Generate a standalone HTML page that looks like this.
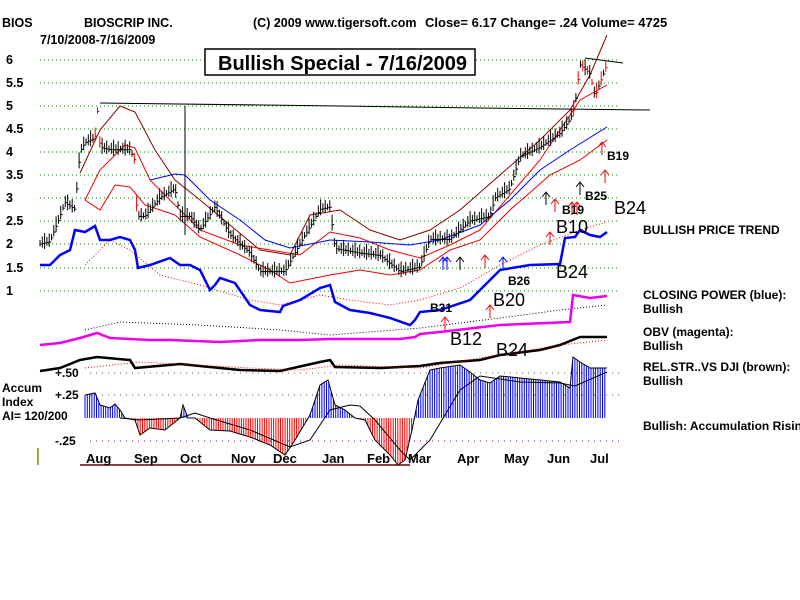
<!DOCTYPE html>
<html><head><meta charset="utf-8"><style>
body{margin:0;background:#fff;width:800px;height:600px;overflow:hidden}
svg{display:block;font-family:"Liberation Sans",sans-serif}
.t{font-weight:bold;font-size:12.5px;fill:#000}
.b{font-size:18px;fill:#000}
</style></head><body>
<svg id="s" width="800" height="600" viewBox="0 0 800 600">
<text class="t" x="2" y="27">BIOS</text>
<text class="t" x="84" y="27">BIOSCRIP INC.</text>
<text class="t" x="253" y="27">(C) 2009 www.tigersoft.com</text>
<text class="t" x="425" y="27" style="font-size:13px">Close=  6.17  Change= .24 Volume= 4725</text>
<text class="t" x="40" y="44">7/10/2008-7/16/2009</text>
<g class="t">
<text x="6" y="64">6</text><text x="6" y="87">5.5</text><text x="6" y="110">5</text><text x="6" y="133">4.5</text>
<text x="6" y="156">4</text><text x="6" y="179">3.5</text><text x="6" y="202">3</text><text x="6" y="225">2.5</text>
<text x="6" y="248">2</text><text x="6" y="272">1.5</text><text x="6" y="295">1</text>
</g>
<g id="grid" stroke="#080" stroke-dasharray="1,3" stroke-width="1"></g>
<rect x="205" y="49" width="270" height="26" fill="#fff" stroke="#000" stroke-width="1.5"/>
<text x="218" y="70" style="font-weight:bold;font-size:20px">Bullish Special - 7/16/2009</text>
<g id="plot"></g>
<g class="t" style="font-size:12px">
<text x="643" y="234">BULLISH PRICE TREND</text>
<text x="643" y="299">CLOSING POWER (blue):</text><text x="643" y="313">Bullish</text>
<text x="643" y="336">OBV (magenta):</text><text x="643" y="350">Bullish</text>
<text x="643" y="371">REL.STR..VS DJI (brown):</text><text x="643" y="385">Bullish</text>
<text x="643" y="430">Bullish: Accumulation Rising</text>
<text x="2" y="392">Accum</text><text x="2" y="406">Index</text><text x="2" y="420">AI= 120/200</text>
<text x="55" y="377">+.50</text><text x="55" y="399">+.25</text><text x="55" y="445">-.25</text>
</g>
<g class="t" style="font-size:13px">
<text x="86" y="463">Aug</text><text x="134" y="463">Sep</text><text x="180" y="463">Oct</text><text x="231" y="463">Nov</text>
<text x="273" y="463">Dec</text><text x="322" y="463">Jan</text><text x="367" y="463">Feb</text><text x="408" y="463">Mar</text>
<text x="457" y="463">Apr</text><text x="504" y="463">May</text><text x="547" y="463">Jun</text><text x="590" y="463">Jul</text>
</g>
<g class="t" style="font-size:12px">
<text x="430" y="312">B31</text><text x="508" y="285">B26</text><text x="562" y="214">B19</text>
<text x="585" y="200">B25</text><text x="607" y="160">B19</text>
</g>
<g class="b"><text x="493" y="306">B20</text><text x="450" y="345">B12</text><text x="496" y="356">B24</text>
<text x="556" y="278">B24</text><text x="556" y="233">B10</text><text x="614" y="214">B24</text></g>
</svg>
<script>
var NS="http://www.w3.org/2000/svg",P=document.getElementById("plot"),G=document.getElementById("grid");
function el(t,a,p){var e=document.createElementNS(NS,t);for(var k in a)e.setAttribute(k,a[k]);(p||P).appendChild(e);return e}
[60,83,106,129,152,175,198,221,244,268,291].forEach(function(y){el("line",{x1:40,x2:620,y1:y,y2:y},G)});
[[373,"#555"],[395,"#555"],[441,"#808"]].forEach(function(a){el("line",{x1:90,x2:620,y1:a[0],y2:a[0],stroke:a[1],"stroke-dasharray":"1,5"},G)});
function interp(pts,x){for(var i=1;i<pts.length;i++){if(x<=pts[i][0]){var a=pts[i-1],b=pts[i];return a[1]+(b[1]-a[1])*(x-a[0])/(b[0]-a[0]||1)}}return pts[pts.length-1][1]}
function line(pts,c,w,d){el("polyline",{points:pts.map(function(p){return p.join(",")}).join(" "),fill:"none",stroke:c,"stroke-width":w,"stroke-dasharray":d||"none"})}
var acc=[[85,395],[95,393],[100,405],[110,408],[115,404],[120,410],[125,418],[135,420],[140,435],[150,428],[165,430],[180,418],[183,405],[188,418],[195,418],[210,430],[230,431],[250,437],[270,445],[285,455],[295,440],[310,415],[320,385],[328,380],[335,405],[345,410],[355,418],[365,420],[375,440],[390,455],[398,465],[405,460],[412,430],[418,400],[430,370],[440,368],[460,365],[470,372],[480,380],[490,383],[500,376],[520,378],[540,380],[560,382],[570,388],[573,357],[580,362],[590,368],[607,368]];
for(var x=85;x<=607;x+=2.3){var y=interp(acc,x);el("line",{x1:x,x2:x,y1:418,y2:y,stroke:y<418?"#00f":"#f00","stroke-width":1})}
line(acc,"#000",1);
line([[120,418],[140,420],[180,418],[195,413],[210,418],[250,430],[290,447],[310,440],[330,410],[350,405],[360,406],[375,420],[400,450],[410,460],[430,440],[460,390],[480,376],[520,382],[560,383],[575,386],[607,372]],"#000",1);
el("line",{x1:80,x2:410,y1:465,y2:465,stroke:"#600","stroke-width":1.5});
el("line",{x1:38,x2:38,y1:448,y2:465,stroke:"#880","stroke-width":1.5});
line([[80,173],[100,130],[120,106],[135,112],[155,150],[175,180],[200,200],[230,225],[260,250],[290,255],[310,215],[340,210],[370,230],[400,240],[430,230],[460,210],[500,175],[540,140],[570,110],[590,75],[607,35]],"#800",1);
line([[85,200],[100,170],[125,145],[135,148],[150,180],[175,205],[200,230],[240,245],[270,250],[300,255],[330,232],[360,238],[390,250],[420,258],[450,245],[480,230],[510,195],[540,160],[560,130],[580,100],[607,85]],"#e00",1);
line([[85,200],[100,210],[115,185],[130,187],[145,205],[175,215],[200,237],[240,255],[270,270],[290,283],[330,275],[360,270],[390,275],[420,270],[450,250],[480,240],[510,210],[550,175],[580,160],[607,140]],"#e00",1);
line([[150,180],[175,174],[185,175],[210,200],[240,220],[265,240],[290,248],[330,240],[370,242],[410,245],[440,240],[480,225],[510,200],[540,170],[570,150],[607,127]],"#00f",1);
line([[85,265],[110,240],[130,250],[160,275],[200,285],[250,300],[280,305],[320,295],[350,300],[390,305],[420,300],[460,288],[500,265],[540,245],[580,230],[607,222]],"#e00",1,"1,2");
line([[100,103],[340,106],[480,108],[650,110]],"#000",1);
line([[585,58],[623,63]],"#000",1);
el("line",{x1:185,x2:185,y1:106,y2:235,stroke:"#000"});
var pr=[[40,2.0],[50,2.05],[60,2.6],[65,2.9],[75,2.75],[80,4.0],[85,4.2],[95,4.3],[98,5.0],[100,4.1],[110,4.05],[130,4.05],[135,3.8],[137,2.6],[145,2.6],[160,3.0],[175,3.2],[180,2.6],[190,2.6],[200,2.3],[215,2.8],[230,2.2],[250,1.8],[260,1.4],[285,1.4],[300,2.0],[320,2.75],[330,2.8],[335,1.9],[360,1.8],[380,1.75],[400,1.4],[420,1.5],[430,2.1],[450,2.1],[470,2.5],[490,2.6],[495,3.0],[510,3.2],[520,3.9],[540,4.1],[560,4.4],[570,4.7],[575,5.0],[580,5.9],[590,5.7],[595,5.2],[600,5.5],[607,5.9]];
for(var x=40,i=0;x<=607;x+=2.3,i++){var p=interp(pr,x),y=60+(6-p)*46,h=4+((i*7)%5)*1.5,red=(x>570&&i%2==0)||(x>95&&x<100)||(x>134&&x<138);
el("line",{x1:x,x2:x,y1:y-h,y2:y+h*0.6,stroke:red?"#e00":"#000","stroke-width":1});el("line",{x1:x,x2:x+2,y1:y,y2:y,stroke:red?"#e00":"#000"});}
line([[40,265],[50,265],[60,255],[70,250],[75,230],[85,232],[95,226],[100,240],[110,240],[120,237],[130,240],[135,250],[138,268],[150,265],[170,258],[180,265],[190,265],[200,270],[210,290],[215,285],[220,278],[235,283],[250,305],[260,310],[280,312],[283,306],[300,300],[320,288],[330,285],[335,302],[350,310],[370,313],[390,318],[410,325],[415,320],[420,312],[440,310],[470,300],[500,270],[530,265],[560,264],[565,238],[575,237],[580,230],[590,235],[600,237],[607,232]],"#00f",2.5);
line([[85,330],[120,322],[200,325],[280,330],[330,335],[420,328],[500,318],[560,310],[607,305]],"#000",1,"1,2");
line([[40,345],[60,343],[80,338],[97,333],[110,338],[150,340],[170,340],[220,342],[260,340],[300,340],[330,339],[400,339],[415,337],[420,334],[440,332],[500,325],[570,322],[573,295],[590,298],[607,296]],"#e0e",2.5);
line([[40,371],[60,368],[80,360],[97,357],[130,360],[135,368],[180,364],[240,370],[280,371],[320,362],[330,360],[335,367],[380,368],[420,366],[440,363],[480,360],[500,355],[540,350],[560,345],[580,337],[607,337]],"#000",2.5);
line([[85,368],[140,362],[250,368],[300,370],[340,365],[420,368],[480,358],[560,345],[607,340]],"#e00",1,"1,2");
[[445,330,"#e00"],[490,318,"#e00"],[485,268,"#e00"],[550,245,"#e00"],[555,212,"#e00"],[572,215,"#e00"],[577,215,"#e00"],[605,183,"#e00"],[602,155,"#e00"],[546,205,"#000"],[580,195,"#000"],[503,270,"#00f"],[443,270,"#00f"],[447,270,"#00f"],[460,270,"#000"]].forEach(function(a){
el("line",{x1:a[0],x2:a[0],y1:a[1]-12,y2:a[1],stroke:a[2]});el("polyline",{points:(a[0]-4)+","+(a[1]-8)+" "+a[0]+","+(a[1]-13)+" "+(a[0]+4)+","+(a[1]-8),fill:"none",stroke:a[2]})});
</script>
</body></html>
